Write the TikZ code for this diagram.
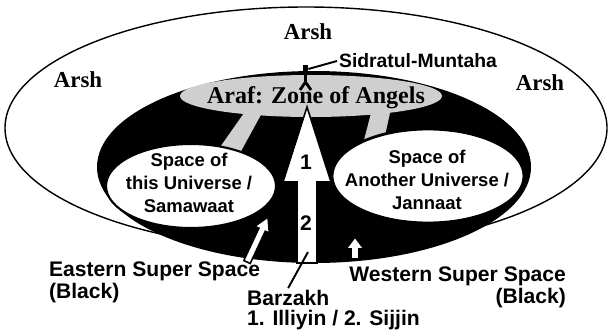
\documentclass[tikz,border=0pt]{standalone}
\usepackage{fontspec}
\setmainfont{Liberation Serif}
\setsansfont{Liberation Sans}
\usetikzlibrary{
    positioning,
    calc
}
\tikzset{
    % --- Serif heading text (Arsh, Araf) ---
    heading/.style = {
        font=\rmfamily\bfseries\fontsize{13pt}{14pt}\selectfont,
        inner sep=1pt
    },
    % --- Sans caption text round the picture ---
    caption/.style = {
        font=\sffamily\bfseries\fontsize{12pt}{12.5pt}\selectfont,
        inner sep=1pt
    },
    % --- Text inside the white zones ---
    zone text/.style = {
        font=\sffamily\bfseries\fontsize{10.5pt}{13pt}\selectfont,
        align=center, inner sep=0pt
    },
    % --- White universe zone ---
    zone/.style = {
        draw=black, fill=white, line width=1.2pt
    },
    % --- White block arrow with black outline ---
    hollow arrow/.style = {
        draw=black, fill=white, line width=0.9pt, line join=miter
    },
    % --- Gray zone of angels ---
    angel fill/.style = {
        fill=gray!38
    },
    % --- Thin pointer line ---
    pointer/.style = {
        line width=1.1pt
    }
}

\begin{document}
\begin{tikzpicture}[x=0.2mm, y=-0.2mm]
\useasboundingbox (0,0) rectangle (609,334);

% ---------------------------------------------------------
% Arsh (outer ellipse) and black super space
% ---------------------------------------------------------
\draw[line width=0.8pt] (306,128) ellipse [x radius=301, y radius=121];
\fill[black] (314,167) ellipse [x radius=217, y radius=96];

% ---------------------------------------------------------
% Araf with its two gray passages
% ---------------------------------------------------------
\fill[angel fill] (244,113) -- (262,113) -- (240,153) -- (218,150) -- cycle;
\fill[angel fill] (371,113) -- (390,113) -- (384,140) -- (364,140) -- cycle;
\fill[angel fill] (311,96) ellipse [x radius=131, y radius=21];

% ---------------------------------------------------------
% The two universes
% ---------------------------------------------------------
\draw[zone] (191,186) ellipse [x radius=85, y radius=42];
\draw[zone, line width=1.6pt] (428,176) ellipse [x radius=96, y radius=47];

% ---------------------------------------------------------
% Barzakh arrow and small arrows
% ---------------------------------------------------------
\draw[hollow arrow] (297,263) -- (297,182) -- (283,182) -- (307,107)
    -- (331,182) -- (317,182) -- (317,263) -- cycle;
\draw[hollow arrow] (243.8,260.5) -- (258.9,228.2) -- (254.8,226.3)
    -- (268,217) -- (269.3,233.1) -- (265.3,231.2) -- (250.2,263.5) -- cycle;
\draw[hollow arrow] (351,259) -- (351,249) -- (346,249) -- (355,237)
    -- (364,249) -- (359,249) -- (359,259) -- cycle;

\node[zone text, font=\sffamily\bfseries\fontsize{12pt}{12pt}\selectfont] (one) at (306,162) {1};
\node[zone text, font=\sffamily\bfseries\fontsize{12pt}{12pt}\selectfont] (two) at (306,223) {2};

% ---------------------------------------------------------
% Sidratul-Muntaha marker
% ---------------------------------------------------------
\node[fill=black, inner sep=0pt, minimum width=1mm, minimum height=1.6mm] (lote) at (305.5,69) {};
\coordinate (fork) at (305.5,82);
\draw[line width=1.4pt] (lote.south) -- (fork);
\draw[line width=1.6pt] (300,90) -- (fork) -- (311,90);
\node[caption, font=\sffamily\bfseries\fontsize{11pt}{12pt}\selectfont, anchor=west] (sidratul) at (337,61) {Sidratul-Muntaha};
\draw[pointer] (lote.east) -- (sidratul.west);

% ---------------------------------------------------------
% Headings
% ---------------------------------------------------------
\node[heading] (arshTop) at (308,32) {Arsh};
\node[heading] (arshLeft) at (78,80) {Arsh};
\node[heading] (arshRight) at (540,83) {Arsh};
\node[heading, font=\rmfamily\bfseries\fontsize{13.7pt}{14pt}\selectfont] (araf) at (316,98) {Araf: Zone of Angels};

\node[zone text] (samawaat) at (189,183) {Space of\\this Universe /\\Samawaat};
\node[zone text] (jannaat) at (427,180) {Space of\\Another Universe /\\Jannaat};

% ---------------------------------------------------------
% Captions below
% ---------------------------------------------------------
\node[caption, anchor=west, align=left] (eastern) at (47,282) {Eastern Super Space\\(Black)};
\node[caption, anchor=east, align=right] (western) at (568,287) {Western Super Space\\(Black)};
\node[caption, anchor=west] (barzakh) at (245,298) {Barzakh};
\node[caption, anchor=west] (illiyin) at (245,320) {1. Illiyin / 2. Sijjin};

\coordinate (barzakhTip) at (308,252);
\draw[pointer] (barzakh.north) -- (barzakhTip);

\end{tikzpicture}
\end{document}
